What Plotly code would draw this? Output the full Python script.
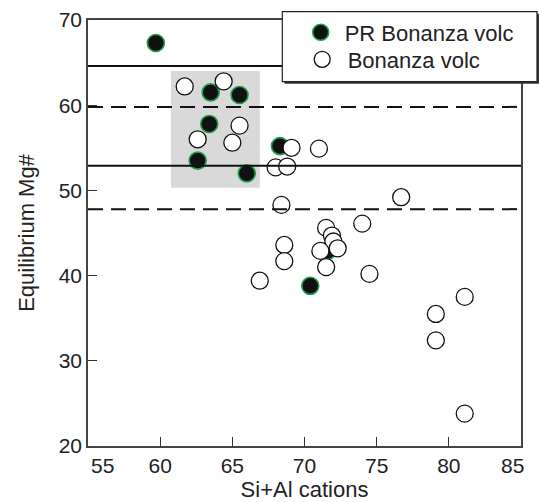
import plotly.graph_objects as go

# Data
pr_x = [59.7, 63.5, 65.5, 63.4, 62.6, 66.0, 68.3, 71.6, 70.4]
pr_y = [67.3, 61.5, 61.2, 57.8, 53.5, 52.0, 55.2, 42.9, 38.8]
bz_x = [61.7, 64.4, 65.5, 62.6, 65.0, 69.1, 71.0, 68.0, 68.8, 68.4, 76.7, 74.0, 71.5,
        71.9, 72.0, 72.3, 71.1, 68.6, 68.6, 71.5, 74.5, 66.9, 81.1, 79.1, 79.1, 81.1]
bz_y = [62.2, 62.8, 57.6, 56.0, 55.6, 55.0, 54.9, 52.7, 52.8, 48.3, 49.2, 46.1, 45.6,
        44.7, 44.0, 43.2, 42.9, 43.6, 41.7, 41.0, 40.2, 39.4, 37.5, 35.5, 32.4, 23.8]
solid_levels = [64.6, 52.9]
dashed_levels = [59.8, 47.8]
box_x = [60.75, 66.9]
box_y = [50.3, 64.0]
x_ticks = [55, 60, 65, 70, 75, 80, 85]
y_ticks = [20, 30, 40, 50, 60, 70]

FONT = "Liberation Sans, Arial, sans-serif"
TXT = "#222"
W, H = 539, 502
ML, MR, MT, MB = 88, 18, 20, 56
PW, PH = W - ML - MR, H - MT - MB


def px2paper(px, py):
    return (px - ML) / PW, (H - MB - py) / PH


fig = go.Figure()
fig.add_trace(go.Scatter(
    x=pr_x, y=pr_y, mode="markers", name="PR Bonanza volc", legend="legend",
    marker=dict(size=17, color="#111", line=dict(color="#1f9e4a", width=1.6)),
))
fig.add_trace(go.Scatter(
    x=bz_x, y=bz_y, mode="markers", name="Bonanza volc", legend="legend2",
    marker=dict(size=17, color="white", line=dict(color="#111", width=1.3)),
))

shapes = [dict(type="rect", xref="x", yref="y", x0=box_x[0], x1=box_x[1],
               y0=box_y[0], y1=box_y[1], fillcolor="#d9d9d9", line=dict(width=0),
               layer="below")]
for lv in solid_levels:
    shapes.append(dict(type="line", xref="paper", yref="y", x0=0, x1=1, y0=lv, y1=lv,
                       line=dict(color="#111", width=2), layer="above"))
for lv in dashed_levels:
    shapes.append(dict(type="line", xref="paper", yref="y", x0=0, x1=1, y0=lv, y1=lv,
                       line=dict(color="#111", width=2, dash="15px,8px"), layer="above"))

# legend frame with shadow
lx0, ly0 = px2paper(282.3, 81.7)
lx1, ly1 = px2paper(537.0, 11.7)
sx0, sy0 = px2paper(284.5, 83.8)
sx1, sy1 = px2paper(539.0, 13.7)
shapes.append(dict(type="rect", xref="paper", yref="paper", x0=sx0, x1=sx1, y0=sy0, y1=sy1,
                   fillcolor="#333", line=dict(width=0), layer="above"))
shapes.append(dict(type="rect", xref="paper", yref="paper", x0=lx0, x1=lx1, y0=ly0, y1=ly1,
                   fillcolor="white", line=dict(color="#222", width=1.2), layer="above"))

l1x, l1y = px2paper(296.7, 32.5)
l2x, l2y = px2paper(296.7, 59.5)

annotations = []
for v, shift in [(55, 14), (85, -8.5)]:
    annotations.append(dict(x=v, y=0, xref="x", yref="paper", text=str(v), showarrow=False,
                            xanchor="center", yanchor="top", xshift=shift, yshift=-6,
                            font=dict(family=FONT, size=21, color=TXT)))

leg_common = dict(xanchor="left", yanchor="middle", bgcolor="rgba(0,0,0,0)",
                  borderwidth=0, font=dict(family=FONT, size=22, color=TXT))

fig.update_layout(
    width=W, height=H,
    margin=dict(l=ML, r=MR, t=MT, b=MB, autoexpand=False),
    paper_bgcolor="white", plot_bgcolor="white",
    shapes=shapes, annotations=annotations,
    showlegend=True,
    legend=dict(x=l1x, y=l1y, itemwidth=38, **leg_common),
    legend2=dict(x=l2x, y=l2y, itemwidth=41, **leg_common),
    xaxis=dict(range=[55, 85], tickvals=x_ticks,
               ticktext=["" if v in (55, 85) else str(v) for v in x_ticks],
               ticks="inside", ticklen=9, tickwidth=1.3, tickcolor="#333",
               showline=True, linecolor="#444", linewidth=1.5, mirror=True,
               showgrid=False, zeroline=False,
               tickfont=dict(family=FONT, size=21, color=TXT),
               title=dict(text="Si+Al cations", font=dict(family=FONT, size=22, color=TXT),
                          standoff=6)),
    yaxis=dict(range=[20, 70], tickvals=y_ticks,
               ticks="inside", ticklen=9, tickwidth=1.3, tickcolor="#333",
               showline=True, linecolor="#444", linewidth=1.5, mirror=True,
               showgrid=False, zeroline=False,
               tickfont=dict(family=FONT, size=21, color=TXT),
               title=dict(text="Equilibrium Mg#", font=dict(family=FONT, size=22, color=TXT),
                          standoff=18)),
    xaxis2=dict(range=[55, 85], overlaying="x", side="top", tickvals=x_ticks,
                ticks="inside", ticklen=9, tickwidth=1, tickcolor="#aaa",
                showticklabels=False, showline=False, showgrid=False, zeroline=False),
    yaxis2=dict(range=[20, 70], overlaying="y", side="right", tickvals=y_ticks,
                ticks="inside", ticklen=9, tickwidth=1, tickcolor="#aaa",
                showticklabels=False, showline=False, showgrid=False, zeroline=False),
)

fig.write_html("out.html")
